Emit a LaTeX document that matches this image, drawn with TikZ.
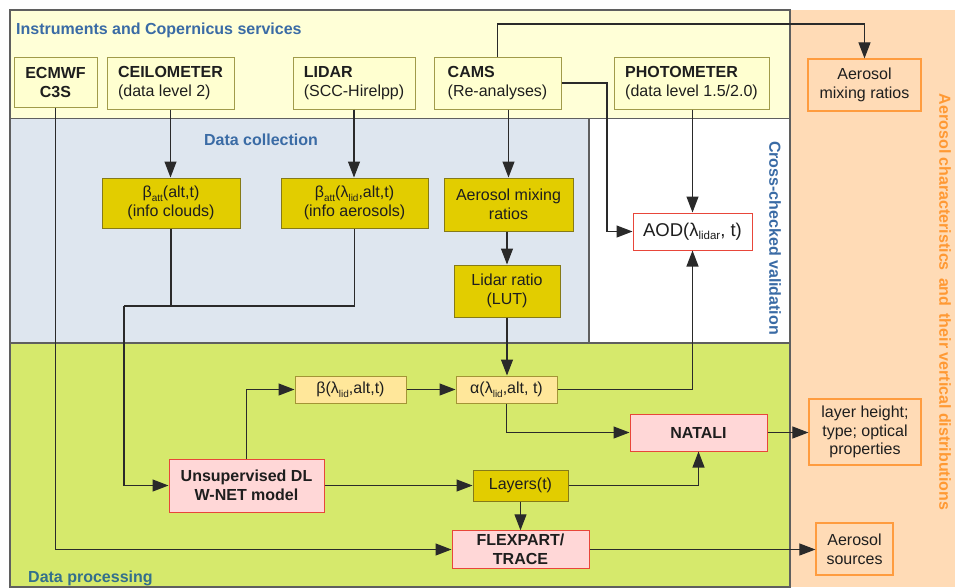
\documentclass[tikz,border=0pt]{standalone}
\usepackage{fontspec}
\setmainfont{Liberation Sans}
\usepackage{xcolor}
\usetikzlibrary{arrows.meta, positioning}

\definecolor{topfill}{HTML}{FFFFD7}
\definecolor{collfill}{HTML}{DEE6EF}
\definecolor{procfill}{HTML}{D6E96C}
\definecolor{orangebg}{HTML}{FFDBB6}
\definecolor{orangeline}{HTML}{FF9C3F}
\definecolor{orangetext}{HTML}{FF9933}
\definecolor{panelgray}{HTML}{5F5F5F}
\definecolor{titleblue}{HTML}{3A6BA5}
\definecolor{procblue}{HTML}{336F8C}
\definecolor{instrfill}{HTML}{FFFFD0}
\definecolor{instredge}{HTML}{A19B4A}
\definecolor{darkyellow}{HTML}{E2CD00}
\definecolor{darkedge}{HTML}{857A18}
\definecolor{lightyellow}{HTML}{FFE79A}
\definecolor{lightedge}{HTML}{A39535}
\definecolor{modelfill}{HTML}{FFD7D7}
\definecolor{modeledge}{HTML}{E8463A}
\definecolor{boxtext}{HTML}{1E1E1E}
\definecolor{wire}{HTML}{2A2A2A}

\newcommand{\lowsub}[2][10]{\raisebox{-3.5pt}{\fontsize{#1}{#1}\selectfont #2}}

\begin{document}
\begin{tikzpicture}[x=1pt, y=-1pt, font=\fontsize{16}{19}\selectfont,
	panel/.style={draw=panelgray, line width=1.2pt},
	instr/.style={draw=instredge, fill=instrfill, line width=1pt, text=boxtext, align=left, minimum height=52},
	collect/.style={draw=darkedge, fill=darkyellow, line width=1pt, text=boxtext, align=center},
	product/.style={draw=lightedge, fill=lightyellow, line width=1pt, text=boxtext, minimum height=27},
	model/.style={draw=modeledge, fill=modelfill, line width=1pt, text=boxtext, align=center, font=\fontsize{16}{19}\selectfont\bfseries},
	result/.style={draw=orangeline, fill=orangebg, line width=1.2pt, text=boxtext, align=center},
	link/.style={draw=wire, line width=1.1pt},
	arr/.style={link, -{Triangle[length=16pt,width=12pt]}}]

	\def\xR{790};
	\def\xM{589};
	\def\yA{118.5};
	\def\yB{343};

	\useasboundingbox (0,0) rectangle (955,587);

	\begin{scope}
		\fill[orangebg] (\xR,10) rectangle (955,587);
		\draw[orangeline, line width=1.5pt] (\xR,10) -- (\xR,587);
		\draw[panel, fill=topfill] (10,10) rectangle (\xR,\yA);
		\draw[panel, fill=collfill] (10,\yA) rectangle (\xM,\yB);
		\draw[panel, fill=white] (\xM,\yA) rectangle (\xR,\yB);
		\draw[panel, fill=procfill] (10,\yB) rectangle (\xR,587);
	\end{scope}

	\begin{scope}[font=\fontsize{16}{19}\selectfont\bfseries]
		\node[titleblue, anchor=west, inner sep=0] (tinstr) at (16,30) {Instruments and Copernicus services};
		\node[titleblue, inner sep=0] (tcoll) at (261,140) {Data collection};
		\node[titleblue, rotate=-90, inner sep=0] (tcheck) at (775,238) {Cross-checked validation};
		\node[procblue, anchor=west, inner sep=0] (tproc) at (28,578) {Data processing};
		\node[orangetext, rotate=-90, inner sep=0] (tout) at (945,302) {Aerosol characteristics\, and\, their vertical distributions};
	\end{scope}

	% instruments and services
	\node[instr, align=center, minimum width=83, minimum height=50, font=\fontsize{16}{19}\selectfont\bfseries] (ecmwf) at (55.5,82) {ECMWF\\C3S};
	\foreach \n/\x/\w/\t/\s in {ceil/170.5/127/CEILOMETER/{(data level 2)}, lidar/354/122/LIDAR/{(SCC-Hirelpp)}, cams/497.5/127/CAMS/{(Re-analyses)}, photo/691.5/155/PHOTOMETER/{(data level 1.5/2.0)}}
	{
		\node[instr, minimum width=\w] (\n) at (\x,83) {\textbf{\t}\\\s};
	}
	\node[result, minimum width=113, minimum height=52] (mixout) at (864.5,85) {Aerosol\\mixing ratios};

	% data collection
	\node[collect, minimum width=138, minimum height=50] (battc) at (171,203) {β\lowsub{att}(alt,t)\\(info clouds)};
	\node[collect, minimum width=147, minimum height=50] (batta) at (354.5,203) {β\lowsub{att}(λ\lowsub{lid},alt,t)\\(info aerosols)};
	\node[collect, minimum width=129, minimum height=53] (mixin) at (508.5,204.5) {Aerosol mixing\\ratios};
	\node[collect, minimum width=106, minimum height=52] (lidratio) at (507,291) {Lidar ratio\\(LUT)};
	\node[draw=modeledge, fill=white, line width=1pt, text=boxtext, minimum width=119, minimum height=37, font=\fontsize{18.5}{22}\selectfont] (aod) at (692.5,231.5) {AOD(λ\lowsub[11.5]{lidar}, t)};

	% data processing
	\node[product, minimum width=111] (beta) at (350.5,389.5) {β(λ\lowsub{lid},alt,t)};
	\node[product, minimum width=101] (alpha) at (506.5,389.5) {α(λ\lowsub{lid},alt, t)};
	\node[model, minimum width=137, minimum height=37] (natali) at (698.5,432.5) {NATALI};
	\node[model, minimum width=155, minimum height=53] (wnet) at (246.5,485.5) {Unsupervised DL\\W-NET model};
	\node[collect, minimum width=95, minimum height=31] (layers) at (520.5,485.5) {Layers(t)};
	\node[model, minimum width=137, minimum height=37] (flex) at (520.5,549.5) {FLEXPART/\\TRACE};

	% outputs
	\node[result, minimum width=112, minimum height=66, font=\fontsize{16}{18.3}\selectfont] (props) at (865,432) {layer height;\\type; optical\\properties};
	\node[result, minimum width=77, minimum height=52] (sources) at (854.5,549) {Aerosol\\sources};

	\coordinate (camsup) at (0,24);
	\coordinate (camsbend) at (607,0);
	\coordinate (merge) at (124,306);

	\draw[arr] (ecmwf.south) |- (flex.west);
	\draw[arr] (ceil.south) -- (ceil.south |- battc.north);
	\draw[arr] (lidar.south) -- (lidar.south |- batta.north);
	\draw[arr] (cams.north) -- (cams.north |- camsup) -| (mixout.north);
	\draw[arr] (mixin.north |- cams.south) -- (mixin.north);
	\draw[arr] (cams.east) -- (cams.east -| camsbend) |- (aod.west);
	\draw[arr] (aod.north |- photo.south) -- (aod.north);
	\draw[arr] (lidratio.north |- mixin.south) -- (lidratio.north);
	\draw[arr] (lidratio.south) -- (lidratio.south |- alpha.north);

	\draw[link] (battc.south) |- (merge);
	\draw[link] (batta.south) |- (merge);
	\draw[arr] (merge) |- (wnet.west);
	\draw[arr] (wnet.north) |- (beta.west);
	\draw[arr] (beta.east) -- (alpha.west);
	\draw[arr] (alpha.east) -| (aod.south);
	\draw[arr] (alpha.south) |- (natali.west);
	\draw[arr] (wnet.east) -- (layers.west);
	\draw[arr] (layers.east) -| (natali.south);
	\draw[arr] (layers.south) -- (layers.south |- flex.north);
	\draw[arr] (natali.east) -- (natali.east -| props.west);
	\draw[arr] (flex.east) -- (flex.east -| sources.west);
\end{tikzpicture}
\end{document}
